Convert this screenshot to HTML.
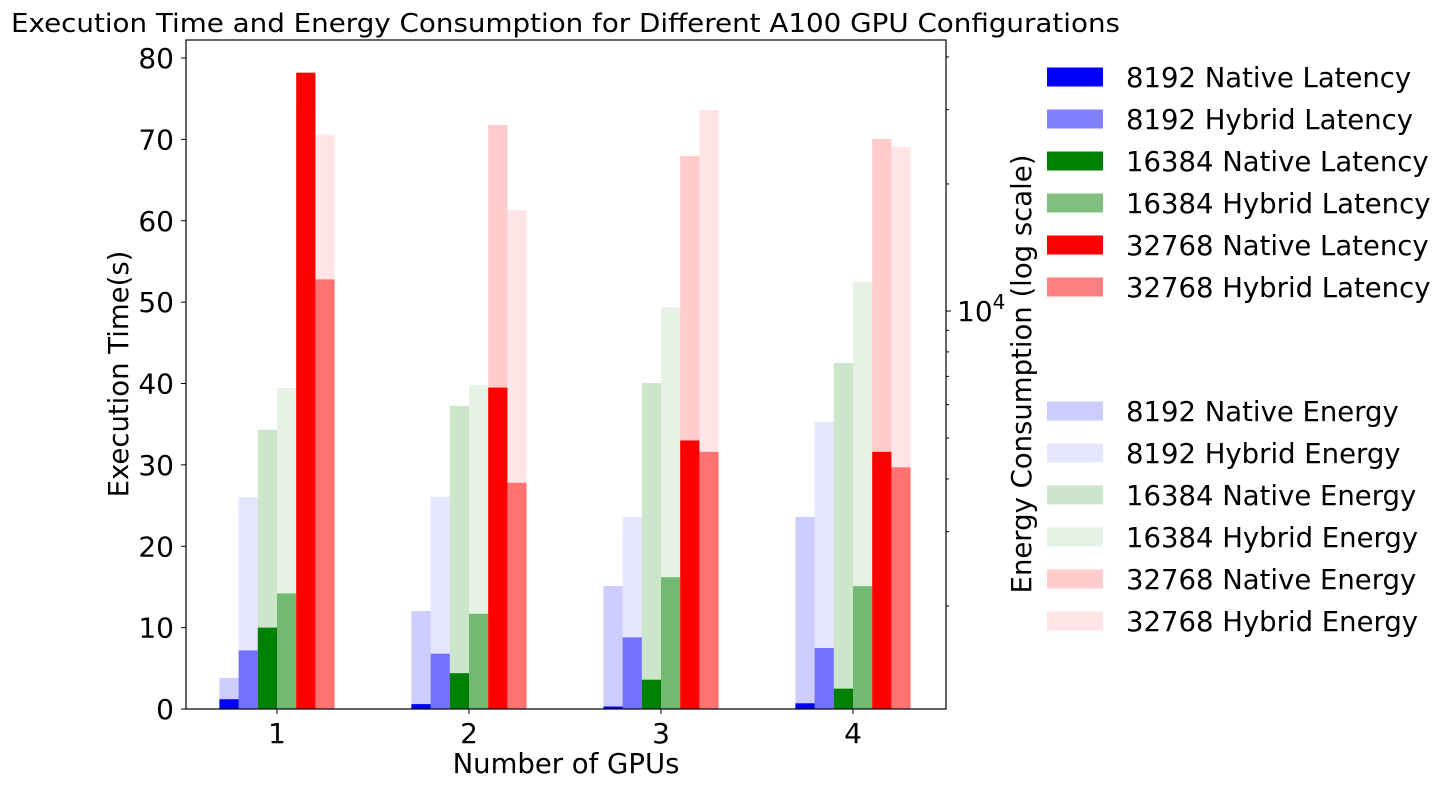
<!DOCTYPE html>
<html><head><meta charset="utf-8"><style>
body{margin:0;background:#fff}
svg text{font-family:"DejaVu Sans","Liberation Sans",sans-serif;fill:#000}
</style></head><body>
<svg id="chart" width="1453" height="790" xmlns="http://www.w3.org/2000/svg">
<rect width="1453" height="790" fill="#fff"/>
<text x="11" y="32" font-size="26" textLength="1109" lengthAdjust="spacingAndGlyphs">Execution Time and Energy Consumption for Different A100 GPU Configurations</text>
<g id="energy"></g>
<g id="latency"></g>
<rect x="186" y="40" width="760" height="669" fill="none" stroke="#000" stroke-width="1.2"/>
<g id="axes"></g>
<text x="566" y="773" font-size="27.5" text-anchor="middle">Number of GPUs</text>
<text transform="translate(128,374) rotate(-90)" font-size="27.5" text-anchor="middle">Execution Time(s)</text>
<text transform="translate(1031,374) rotate(-90)" font-size="27.5" text-anchor="middle">Energy Consumption (log scale)</text>
<g id="legend"></g>
</svg>
<script>
const categories = ["1", "2", "3", "4"];
const seriesNames = ["8192 Native", "8192 Hybrid", "16384 Native", "16384 Hybrid", "32768 Native", "32768 Hybrid"];
const latency8192N = [1.2, 0.6, 0.3, 0.7];
const latency8192H = [7.2, 6.8, 8.8, 7.5];
const latency16384N = [10.0, 4.4, 3.6, 2.5];
const latency16384H = [14.2, 11.7, 16.2, 15.1];
const latency32768N = [78.2, 39.5, 33.0, 31.6];
const latency32768H = [52.8, 27.8, 31.6, 29.7];
const energy8192N = [1350, 1945, 2230, 3250];
const energy8192H = [3620, 3630, 3250, 5460];
const energy16384N = [5230, 5960, 6750, 7530];
const energy16384H = [6570, 6680, 10200, 11720];
const energy32768N = [30000, 27600, 23300, 25570];
const energy32768H = [26200, 17350, 29950, 24480];
const yTicks = [0, 10, 20, 30, 40, 50, 60, 70, 80];

const latency = [latency8192N, latency8192H, latency16384N, latency16384H, latency32768N, latency32768H];
const energy = [energy8192N, energy8192H, energy16384N, energy16384H, energy32768N, energy32768H];
const baseCol = ["0,0,255","0,0,255","0,128,0","0,128,0","255,0,0","255,0,0"];
const latAlpha = [1,0.5,1,0.5,1,0.5];
const enAlpha = [0.2,0.1,0.2,0.1,0.2,0.1];
const NS = "http://www.w3.org/2000/svg";
function mk(tag, attrs, parent){const e=document.createElementNS(NS,tag);for(const k in attrs)e.setAttribute(k,attrs[k]);parent.appendChild(e);return e;}
const plotBottom=709, plotTop=40;
function yL(v){return plotBottom - v*(651/80);}
const D=422, y1e4=311;
function yE(v){return y1e4 - (Math.log10(v)-4)*D;}
function xC(i){return 277 + i*192;}
const bw=19.2;
const gE=document.getElementById('energy'), gL=document.getElementById('latency'), gA=document.getElementById('axes'), gLeg=document.getElementById('legend');
for(let s=0;s<6;s++){
  for(let i=0;i<categories.length;i++){
    const x=xC(i)+(s-3)*bw;
    const yt=Math.max(plotTop,yE(energy[s][i]));
    const r=mk('rect',{x:x,y:yt,width:bw,height:plotBottom-yt,fill:`rgba(${baseCol[s]},${enAlpha[s]})`},gE);
    
    
  }
}
for(let s=0;s<6;s++){
  for(let i=0;i<categories.length;i++){
    const x=xC(i)+(s-3)*bw;
    const yt=yL(latency[s][i]);
    const r=mk('rect',{x:x,y:yt,width:bw,height:plotBottom-yt,fill:`rgba(${baseCol[s]},${latAlpha[s]})`},gL);
    
    
  }
}
yTicks.forEach(v=>{
  const y=yL(v);
  mk('line',{x1:181,x2:186,y1:y,y2:y,stroke:'#000'},gA);
  const t=mk('text',{x:174,y:y+10,'font-size':28,'text-anchor':'end'},gA);
  t.textContent=v;
  
  
});
categories.forEach((c,i)=>{
  const x=xC(i);
  mk('line',{x1:x,x2:x,y1:709,y2:714,stroke:'#000'},gA);
  const t=mk('text',{x:x,y:743,'font-size':28,'text-anchor':'middle'},gA);
  t.textContent=c;
  
  
});
const minorVals=[2000,3000,4000,5000,6000,7000,8000,9000,20000,30000,40000];
minorVals.forEach(v=>{const y=yE(v); if(y>=plotTop&&y<=plotBottom) mk('line',{x1:946,x2:949,y1:y,y2:y,stroke:'#000'},gA);});
mk('line',{x1:946,x2:951,y1:yE(10000),y2:yE(10000),stroke:'#000'},gA);
const rt=mk('text',{x:957,y:yE(10000)+10,'font-size':28},gA);


rt.innerHTML='10<tspan font-size="20" dy="-12">4</tspan>';
const legY=[77,119,161,203,245,287,411,453,495,537,579,621];
for(let k=0;k<12;k++){
  const s=k%6, isE=k>=6;
  const yc=legY[k];
  const r=mk('rect',{x:1047,y:yc-9.5,width:56,height:19,fill:`rgba(${baseCol[s]},${isE?enAlpha[s]:latAlpha[s]})`},gLeg);
  
  
  const t=mk('text',{x:1126,y:yc+10,'font-size':27.5},gLeg);
  t.textContent=seriesNames[s]+(isE?' Energy':' Latency');
  
  
}
</script>
</body></html>
